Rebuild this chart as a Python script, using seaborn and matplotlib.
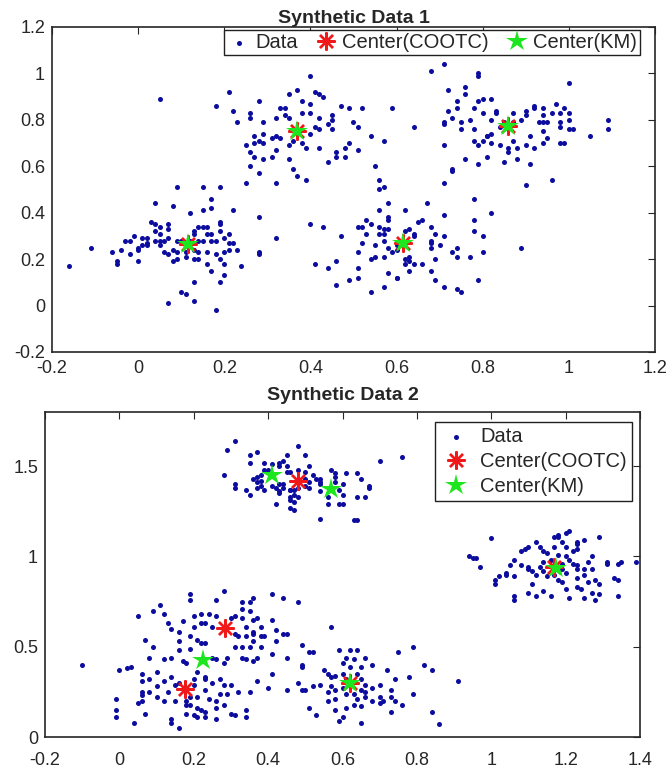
import matplotlib
matplotlib.use('Agg')
import matplotlib.pyplot as plt
import pandas as pd
import seaborn as sns

# ---- Synthetic Data 1 ----
d1_cluster_a = [
    (0.09, 0.51), (0.15, 0.51), (0.19, 0.51), (0.04, 0.44), (0.08, 0.43), (0.17, 0.46), (0.12, 0.40),
    (0.15, 0.41), (0.17, 0.42), (0.22, 0.41), (0.28, 0.38), (0.03, 0.36), (0.04, 0.35), (0.05, 0.34),
    (0.07, 0.35), (0.04, 0.32), (0.05, 0.31), (0.07, 0.33), (0.19, 0.36), (0.19, 0.35), (0.14, 0.34),
    (0.15, 0.34), (0.16, 0.34), (0.13, 0.32), (0.13, 0.31), (0.16, 0.31), (0.17, 0.31), (0.19, 0.32),
    (0.21, 0.31), (-0.01, 0.30), (-0.03, 0.28), (-0.02, 0.28), (0.01, 0.29), (0.02, 0.29), (0.01, 0.26),
    (0.00, 0.25), (0.02, 0.27), (0.02, 0.26), (0.04, 0.28), (0.05, 0.28), (0.06, 0.28), (0.07, 0.29),
    (0.09, 0.28), (0.10, 0.28), (0.12, 0.28), (0.14, 0.28), (0.15, 0.28), (0.17, 0.28), (0.18, 0.28),
    (0.20, 0.29), (0.21, 0.27), (0.22, 0.27), (0.21, 0.24), (0.23, 0.24), (-0.11, 0.25), (-0.06, 0.23),
    (-0.04, 0.24), (-0.02, 0.22), (0.00, 0.24), (0.05, 0.26), (0.06, 0.23), (0.07, 0.22), (0.08, 0.24),
    (0.09, 0.23), (0.11, 0.23), (0.13, 0.24), (0.14, 0.23), (0.16, 0.23), (0.18, 0.22), (0.20, 0.23),
    (0.28, 0.23), (0.28, 0.22), (-0.05, 0.19), (-0.05, 0.18), (0.00, 0.19), (0.08, 0.19), (0.09, 0.20),
    (0.11, 0.21), (0.13, 0.20), (0.14, 0.20), (0.16, 0.18), (0.17, 0.15), (0.19, 0.20), (0.20, 0.18),
    (0.24, 0.17), (-0.16, 0.17), (0.20, 0.13), (0.19, 0.10), (0.13, 0.10), (0.10, 0.06), (0.11, 0.05),
    (0.13, 0.02), (0.07, 0.01), (0.18, -0.02), (0.32, 0.29),
]
d1_cluster_b = [
    (0.40, 0.99), (0.21, 0.92), (0.18, 0.86), (0.28, 0.88), (0.35, 0.91), (0.37, 0.93), (0.41, 0.92),
    (0.42, 0.91), (0.43, 0.90), (0.22, 0.84), (0.26, 0.83), (0.26, 0.81), (0.23, 0.79), (0.29, 0.79),
    (0.32, 0.81), (0.33, 0.85), (0.34, 0.85), (0.34, 0.82), (0.35, 0.81), (0.38, 0.88), (0.40, 0.87),
    (0.38, 0.83), (0.40, 0.83), (0.42, 0.81), (0.45, 0.82), (0.47, 0.86), (0.49, 0.85), (0.50, 0.79),
    (0.51, 0.77), (0.45, 0.80), (0.44, 0.78), (0.45, 0.76), (0.42, 0.76), (0.41, 0.77), (0.40, 0.74),
    (0.38, 0.70), (0.36, 0.71), (0.35, 0.69), (0.33, 0.72), (0.32, 0.73), (0.31, 0.72), (0.29, 0.74),
    (0.27, 0.73), (0.28, 0.71), (0.29, 0.70), (0.27, 0.70), (0.25, 0.69), (0.26, 0.66), (0.27, 0.64),
    (0.29, 0.63), (0.31, 0.64), (0.32, 0.67), (0.35, 0.63), (0.36, 0.59), (0.37, 0.56), (0.39, 0.54),
    (0.32, 0.53), (0.25, 0.53), (0.26, 0.60), (0.28, 0.57), (0.39, 0.68), (0.42, 0.68), (0.44, 0.62),
    (0.46, 0.64), (0.48, 0.64), (0.46, 0.66), (0.48, 0.68), (0.49, 0.70), (0.51, 0.67), (0.05, 0.89),
    (0.52, 0.85), (0.54, 0.73), (0.55, 0.60), (0.56, 0.50),
]
d1_cluster_c = [
    (0.58, 0.44), (0.62, 0.41), (0.67, 0.44), (0.56, 0.54), (0.57, 0.51), (0.66, 0.37), (0.65, 0.36),
    (0.71, 0.39), (0.68, 0.34), (0.69, 0.31), (0.71, 0.30), (0.78, 0.37), (0.78, 0.46), (0.82, 0.40),
    (0.78, 0.32), (0.80, 0.30), (0.89, 0.25), (0.58, 0.38), (0.58, 0.37), (0.57, 0.33), (0.57, 0.31),
    (0.57, 0.28), (0.58, 0.33), (0.62, 0.32), (0.63, 0.33), (0.64, 0.31), (0.64, 0.30), (0.58, 0.25),
    (0.60, 0.26), (0.60, 0.24), (0.59, 0.23), (0.57, 0.21), (0.62, 0.20), (0.63, 0.21), (0.62, 0.18),
    (0.63, 0.19), (0.64, 0.18), (0.66, 0.18), (0.68, 0.28), (0.68, 0.27), (0.68, 0.25), (0.70, 0.26),
    (0.69, 0.20), (0.73, 0.23), (0.74, 0.25), (0.74, 0.21), (0.77, 0.21), (0.80, 0.23), (0.58, 0.14),
    (0.60, 0.12), (0.60, 0.12), (0.63, 0.15), (0.68, 0.15), (0.69, 0.11), (0.71, 0.08), (0.74, 0.07),
    (0.75, 0.06), (0.79, 0.11), (0.57, 0.08), (0.40, 0.35), (0.43, 0.34), (0.51, 0.34), (0.47, 0.30),
    (0.41, 0.18), (0.44, 0.16), (0.46, 0.19), (0.51, 0.23), (0.51, 0.16), (0.49, 0.11), (0.46, 0.09),
    (0.51, 0.12), (0.56, 0.41), (0.53, 0.37), (0.54, 0.35), (0.56, 0.34), (0.52, 0.34), (0.53, 0.31),
    (0.56, 0.31), (0.52, 0.27), (0.55, 0.26), (0.54, 0.20), (0.55, 0.21), (0.54, 0.06),
]
d1_cluster_d = [
    (0.68, 1.01), (0.71, 1.04), (0.79, 0.99), (0.79, 1.00), (1.00, 0.96), (0.59, 0.85), (0.64, 0.77),
    (0.57, 0.71), (0.72, 0.93), (0.76, 0.94), (0.76, 0.91), (0.74, 0.88), (0.74, 0.85), (0.72, 0.84),
    (0.71, 0.79), (0.71, 0.78), (0.73, 0.81), (0.75, 0.79), (0.75, 0.76), (0.77, 0.80), (0.78, 0.85),
    (0.79, 0.88), (0.80, 0.89), (0.82, 0.89), (0.80, 0.83), (0.82, 0.80), (0.83, 0.84), (0.83, 0.83),
    (0.84, 0.77), (0.85, 0.79), (0.87, 0.83), (0.87, 0.79), (0.89, 0.80), (0.90, 0.84), (0.90, 0.82),
    (0.92, 0.86), (0.92, 0.85), (0.94, 0.85), (0.94, 0.82), (0.96, 0.83), (0.97, 0.87), (0.99, 0.85),
    (0.98, 0.83), (1.00, 0.83), (0.93, 0.79), (0.94, 0.79), (0.95, 0.79), (0.98, 0.79), (1.00, 0.80),
    (0.98, 0.77), (1.00, 0.76), (1.01, 0.76), (0.94, 0.75), (0.95, 0.72), (0.91, 0.73), (0.90, 0.69),
    (0.92, 0.68), (0.94, 0.70), (0.98, 0.70), (0.99, 0.70), (0.88, 0.68), (0.87, 0.71), (0.86, 0.66),
    (0.86, 0.68), (0.84, 0.69), (0.82, 0.70), (0.81, 0.73), (0.79, 0.69), (0.80, 0.71), (0.78, 0.71),
    (0.78, 0.76), (0.81, 0.73), (0.82, 0.74), (0.71, 0.69), (0.76, 0.63), (0.79, 0.61), (0.81, 0.64),
    (0.85, 0.62), (0.88, 0.63), (0.91, 0.61), (0.73, 0.58), (0.73, 0.59), (0.71, 0.53), (0.90, 0.52),
    (0.96, 0.54), (1.05, 0.73), (1.09, 0.80), (1.09, 0.76),
]
d1_cootc_x = [0.115, 0.37, 0.615, 0.86]
d1_cootc_y = [0.265, 0.75, 0.268, 0.773]
d1_km_x = [0.115, 0.37, 0.615, 0.86]
d1_km_y = [0.265, 0.75, 0.268, 0.773]

# ---- Synthetic Data 2 ----
d2_cluster_top = [
    (0.31, 1.64), (0.29, 1.59), (0.35, 1.56), (0.37, 1.58), (0.48, 1.61), (0.45, 1.56), (0.50, 1.56),
    (0.35, 1.52), (0.39, 1.52), (0.41, 1.51), (0.43, 1.52), (0.44, 1.53), (0.45, 1.50), (0.43, 1.50),
    (0.39, 1.48), (0.40, 1.48), (0.38, 1.45), (0.37, 1.44), (0.36, 1.43), (0.38, 1.42), (0.37, 1.41),
    (0.38, 1.39), (0.37, 1.38), (0.41, 1.39), (0.39, 1.37), (0.43, 1.40), (0.42, 1.38), (0.44, 1.40),
    (0.44, 1.38), (0.43, 1.36), (0.43, 1.35), (0.28, 1.45), (0.31, 1.40), (0.31, 1.38), (0.34, 1.37),
    (0.35, 1.34), (0.45, 1.47), (0.46, 1.47), (0.48, 1.48), (0.50, 1.47), (0.51, 1.50), (0.50, 1.43),
    (0.51, 1.41), (0.52, 1.45), (0.53, 1.43), (0.54, 1.41), (0.54, 1.43), (0.54, 1.40), (0.50, 1.39),
    (0.48, 1.38), (0.47, 1.37), (0.46, 1.37), (0.46, 1.37), (0.47, 1.34), (0.48, 1.33), (0.46, 1.33),
    (0.46, 1.31), (0.47, 1.30), (0.46, 1.27), (0.47, 1.26), (0.42, 1.29), (0.51, 1.38), (0.54, 1.36),
    (0.56, 1.33), (0.57, 1.48), (0.58, 1.46), (0.58, 1.44), (0.58, 1.41), (0.59, 1.37), (0.60, 1.40),
    (0.61, 1.46), (0.64, 1.46), (0.65, 1.43), (0.67, 1.38), (0.67, 1.39), (0.66, 1.33), (0.64, 1.33),
    (0.60, 1.34), (0.59, 1.29), (0.60, 1.29), (0.56, 1.29), (0.54, 1.21), (0.63, 1.20), (0.64, 1.20),
    (0.70, 1.53), (0.76, 1.55),
]
d2_cluster_blob = [
    (0.28, 0.81), (0.19, 0.79), (0.19, 0.76), (0.26, 0.76), (0.33, 0.75), (0.35, 0.75), (0.36, 0.77),
    (0.41, 0.79), (0.44, 0.77), (0.48, 0.75), (0.11, 0.73), (0.09, 0.70), (0.05, 0.67), (0.12, 0.68),
    (0.13, 0.63), (0.14, 0.60), (0.16, 0.58), (0.17, 0.64), (0.20, 0.67), (0.22, 0.68), (0.24, 0.68),
    (0.26, 0.67), (0.30, 0.66), (0.31, 0.67), (0.33, 0.66), (0.33, 0.71), (0.35, 0.70), (0.36, 0.65),
    (0.37, 0.66), (0.38, 0.61), (0.34, 0.61), (0.36, 0.58), (0.41, 0.65), (0.42, 0.59), (0.44, 0.57),
    (0.45, 0.57), (0.31, 0.57), (0.32, 0.56), (0.34, 0.56), (0.36, 0.57), (0.38, 0.56), (0.39, 0.56),
    (0.20, 0.61), (0.22, 0.63), (0.23, 0.63), (0.25, 0.61), (0.19, 0.56), (0.21, 0.54), (0.22, 0.52),
    (0.23, 0.52), (0.19, 0.49), (0.16, 0.53), (0.16, 0.48), (0.07, 0.54), (0.09, 0.50), (0.08, 0.44),
    (0.12, 0.43), (0.14, 0.44), (0.17, 0.42), (0.18, 0.41), (0.25, 0.44), (0.26, 0.43), (0.28, 0.41),
    (0.29, 0.44), (0.31, 0.50), (0.33, 0.44), (0.34, 0.43), (0.36, 0.42), (0.37, 0.44), (0.33, 0.50),
    (0.35, 0.50), (0.36, 0.53), (0.38, 0.50), (0.41, 0.46), (0.42, 0.53), (0.45, 0.44), (0.41, 0.35),
    (0.37, 0.31), (0.40, 0.27), (0.35, 0.25), (0.32, 0.25), (0.29, 0.24), (0.30, 0.29), (0.28, 0.29),
    (0.27, 0.32), (0.25, 0.30), (0.23, 0.26), (0.21, 0.36), (0.20, 0.32), (0.23, 0.33), (0.23, 0.32),
    (0.20, 0.29), (0.19, 0.22), (0.21, 0.22), (0.24, 0.21), (0.26, 0.20), (0.27, 0.24), (0.16, 0.30),
    (0.15, 0.29), (0.14, 0.33), (0.12, 0.31), (0.10, 0.28), (0.10, 0.36), (0.08, 0.32), (0.06, 0.35),
    (0.06, 0.31), (0.06, 0.25), (0.06, 0.23), (0.08, 0.25), (0.10, 0.22), (0.12, 0.20), (0.13, 0.25),
    (0.15, 0.20), (0.18, 0.20), (0.18, 0.18), (0.19, 0.18), (0.21, 0.16), (0.22, 0.15), (0.23, 0.14),
    (0.26, 0.16), (0.28, 0.18), (0.30, 0.13), (0.34, 0.15), (0.34, 0.11), (0.31, 0.12), (0.26, 0.10),
    (0.23, 0.11), (0.21, 0.11), (0.20, 0.12), (0.18, 0.13), (0.14, 0.10), (0.14, 0.08), (0.16, 0.05),
    (0.07, 0.13), (0.04, 0.08), (-0.01, 0.21), (-0.01, 0.15), (-0.01, 0.11), (0.00, 0.37), (0.02, 0.38),
    (0.03, 0.39), (-0.10, 0.40), (0.05, 0.19), (0.06, 0.20),
]
d2_cluster_low = [
    (0.57, 0.61), (0.49, 0.51), (0.51, 0.47), (0.52, 0.47), (0.59, 0.48), (0.62, 0.48), (0.64, 0.48),
    (0.60, 0.41), (0.61, 0.44), (0.63, 0.43), (0.65, 0.39), (0.66, 0.44), (0.68, 0.40), (0.72, 0.37),
    (0.75, 0.47), (0.49, 0.40), (0.49, 0.39), (0.55, 0.37), (0.56, 0.35), (0.57, 0.33), (0.58, 0.34),
    (0.60, 0.35), (0.61, 0.32), (0.62, 0.39), (0.64, 0.35), (0.65, 0.32), (0.66, 0.29), (0.68, 0.27),
    (0.70, 0.29), (0.73, 0.26), (0.74, 0.32), (0.45, 0.26), (0.48, 0.30), (0.49, 0.26), (0.50, 0.26),
    (0.52, 0.28), (0.54, 0.29), (0.56, 0.25), (0.57, 0.28), (0.58, 0.26), (0.60, 0.27), (0.61, 0.24),
    (0.63, 0.24), (0.65, 0.26), (0.66, 0.25), (0.64, 0.21), (0.66, 0.22), (0.68, 0.20), (0.70, 0.22),
    (0.71, 0.20), (0.73, 0.22), (0.74, 0.20), (0.51, 0.16), (0.53, 0.12), (0.56, 0.20), (0.58, 0.21),
    (0.61, 0.16), (0.63, 0.18), (0.65, 0.17), (0.58, 0.15), (0.60, 0.11), (0.65, 0.08), (0.59, 0.09),
    (0.73, 0.14), (0.70, 0.19), (0.79, 0.50), (0.82, 0.40), (0.84, 0.37), (0.91, 0.31), (0.78, 0.33),
    (0.79, 0.24), (0.76, 0.18), (0.84, 0.14), (0.86, 0.07),
]
d2_cluster_right = [
    (1.00, 1.10), (0.94, 1.00), (0.95, 0.99), (0.96, 0.99), (0.97, 0.94), (1.39, 0.97), (1.01, 0.85),
    (1.01, 0.87), (1.02, 0.89), (1.04, 0.90), (1.04, 0.91), (1.05, 0.95), (1.06, 0.98), (1.06, 0.89),
    (1.08, 1.03), (1.09, 1.04), (1.10, 1.05), (1.08, 0.95), (1.10, 0.93), (1.10, 0.94), (1.11, 0.92),
    (1.12, 0.90), (1.11, 0.85), (1.10, 0.80), (1.12, 0.78), (1.14, 0.81), (1.16, 0.78), (1.06, 0.78),
    (1.06, 0.76), (1.12, 1.08), (1.13, 1.05), (1.14, 1.03), (1.15, 1.02), (1.16, 0.98), (1.14, 0.97),
    (1.13, 0.94), (1.14, 0.92), (1.15, 0.89), (1.17, 1.05), (1.17, 1.11), (1.18, 1.12), (1.18, 1.11),
    (1.20, 1.13), (1.21, 1.14), (1.19, 1.08), (1.20, 1.05), (1.18, 1.01), (1.20, 1.00), (1.21, 0.98),
    (1.22, 0.96), (1.19, 0.96), (1.19, 0.93), (1.20, 0.91), (1.19, 0.86), (1.18, 0.87), (1.17, 0.90),
    (1.20, 0.82), (1.21, 0.77), (1.23, 1.08), (1.23, 1.07), (1.25, 1.09), (1.29, 1.11), (1.27, 1.00),
    (1.26, 0.97), (1.23, 0.95), (1.23, 0.93), (1.25, 0.93), (1.25, 0.90), (1.23, 0.88), (1.23, 0.83),
    (1.24, 0.82), (1.26, 0.86), (1.27, 0.93), (1.28, 0.87), (1.29, 0.85), (1.31, 0.96), (1.31, 0.97),
    (1.27, 0.80), (1.28, 0.76), (1.25, 0.77), (1.29, 0.79), (1.34, 0.96), (1.35, 0.97), (1.33, 0.88),
    (1.34, 0.87), (1.34, 0.78), (1.22, 1.03), (1.23, 1.04),
]
d2_cootc_x = [0.176, 0.283, 0.481, 0.62, 1.17]
d2_cootc_y = [0.264, 0.602, 1.416, 0.30, 0.94]
d2_km_x = [0.225, 0.41, 0.568, 0.62, 1.173]
d2_km_y = [0.427, 1.45, 1.372, 0.30, 0.934]

DOT = '#0c0c9e'
RED = '#f01818'
GREEN = '#1ee61e'


def to_frame(*clusters):
    pts = [p for c in clusters for p in c]
    return pd.DataFrame(pts, columns=['x', 'y'])


def draw_panel(ax, df, cx, cy, kx, ky, title, title_pad=3, xpad=6):
    sns.scatterplot(data=df, x='x', y='y', ax=ax, color=DOT, s=13,
                    linewidth=0, label='Data', legend=False)
    ax.plot(cx, cy, linestyle='none', marker=(8, 2, 0), color=RED,
            markersize=13, markeredgewidth=1.7, label='Center(COOTC)')
    ax.plot(kx, ky, linestyle='none', marker='*', color=GREEN,
            markersize=16, markeredgewidth=0, label='Center(KM)')
    ax.set_title(title, fontsize=14, fontweight='bold', pad=title_pad)
    ax.set_xlabel('')
    ax.set_ylabel('')
    ax.tick_params(direction='in', top=True, right=True, length=5,
                   width=0.8, labelsize=13, colors='#262626')
    ax.tick_params(axis='x', pad=xpad)
    ax.tick_params(axis='y', pad=5)
    for sp in ax.spines.values():
        sp.set_color('#262626')
        sp.set_linewidth(1.2)


sns.set_style('white')
plt.rcParams['font.family'] = ['Liberation Sans', 'DejaVu Sans']

fig = plt.figure(figsize=(6.71, 7.69), dpi=100)
ax1 = fig.add_axes([0.0775, 0.5423, 0.8985, 0.4226])
ax2 = fig.add_axes([0.0671, 0.0416, 0.8867, 0.4226])

draw_panel(ax1, to_frame(d1_cluster_a, d1_cluster_b, d1_cluster_c, d1_cluster_d),
           d1_cootc_x, d1_cootc_y, d1_km_x, d1_km_y, 'Synthetic Data 1')
ax1.set_xlim(-0.2, 1.2)
ax1.set_ylim(-0.2, 1.2)
ax1.set_xticks([-0.2, 0, 0.2, 0.4, 0.6, 0.8, 1, 1.2])
ax1.set_xticklabels(['-0.2', '0', '0.2', '0.4', '0.6', '0.8', '1', '1.2'])
ax1.set_yticks([-0.2, 0, 0.2, 0.4, 0.6, 0.8, 1, 1.2])
ax1.set_yticklabels(['-0.2', '0', '0.2', '0.4', '0.6', '0.8', '1', '1.2'])
leg1 = ax1.legend(loc='upper right', bbox_to_anchor=(0.975, 0.99), ncol=3,
                  fontsize=14.5, frameon=True, fancybox=False, framealpha=1,
                  edgecolor='#202020', borderaxespad=0, handletextpad=0.2,
                  columnspacing=0.8, handlelength=1.2, borderpad=0.15)
leg1.get_frame().set_linewidth(1.0)

draw_panel(ax2, to_frame(d2_cluster_top, d2_cluster_blob, d2_cluster_low, d2_cluster_right),
           d2_cootc_x, d2_cootc_y, d2_km_x, d2_km_y, 'Synthetic Data 2',
           title_pad=9, xpad=11)
ax2.set_xlim(-0.2, 1.4)
ax2.set_ylim(0, 1.8)
ax2.set_xticks([-0.2, 0, 0.2, 0.4, 0.6, 0.8, 1, 1.2, 1.4])
ax2.set_xticklabels(['-0.2', '0', '0.2', '0.4', '0.6', '0.8', '1', '1.2', '1.4'])
ax2.set_yticks([0, 0.5, 1, 1.5])
ax2.set_yticklabels(['0', '0.5', '1', '1.5'])
leg2 = ax2.legend(loc='upper right', bbox_to_anchor=(0.9866, 0.969),
                  fontsize=14.5, frameon=True, fancybox=False, framealpha=1,
                  edgecolor='#202020', borderaxespad=0, handletextpad=0.4,
                  labelspacing=0.3, handlelength=1.6, borderpad=0.25)
leg2.get_frame().set_linewidth(1.0)

fig.savefig('out.png', dpi=100)
